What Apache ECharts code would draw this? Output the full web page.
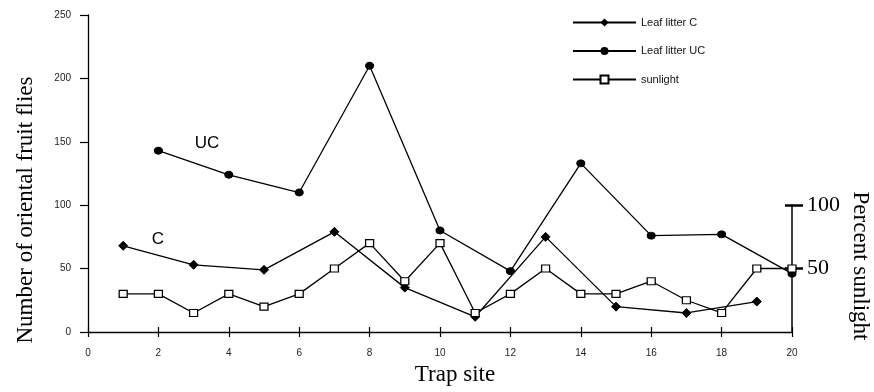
<!DOCTYPE html>
<html><head><meta charset="utf-8">
<script src="https://cdn.jsdelivr.net/npm/echarts@6/dist/echarts.min.js"></script>
<style>html,body{margin:0;padding:0;background:#fff}#c{width:874px;height:392px}</style>
</head><body><div id="c"></div>
<script>
// ---- data ----
const sitesC = [1, 3, 5, 7, 9, 11, 13, 15, 17, 19];
const leafLitterC = [68, 53, 49, 79, 35, 12, 75, 20, 15, 24];
const sitesUC = [2, 4, 6, 8, 10, 12, 14, 16, 18, 20];
const leafLitterUC = [143, 124, 110, 210, 80, 48, 133, 76, 77, 46];
const sitesSun = [1, 2, 3, 4, 5, 6, 7, 8, 9, 10, 11, 12, 13, 14, 15, 16, 17, 18, 19, 20];
const sunlight = [30, 30, 15, 30, 20, 30, 50, 70, 40, 70, 15, 30, 50, 30, 30, 40, 25, 15, 50, 50];
const sunTicks = [50, 100];
const seriesNames = ['Leaf litter C', 'Leaf litter UC', 'sunlight'];

const pairs = (xs, ys) => xs.map((x, i) => [x, ys[i]]);
const serif = "'Liberation Serif', 'Times New Roman', serif";
const sans = "'Liberation Sans', Arial, sans-serif";
const black = '#000';
const mainGrid = { left: 88, right: 82, top: 15, bottom: 60 };
const sunGrid = { left: 88, right: 82, top: 205, bottom: 60 };

const chart = echarts.init(document.getElementById('c'), null, { renderer: 'canvas' });
chart.setOption({
  animation: false,
  backgroundColor: '#fff',
  grid: [mainGrid, sunGrid, Object.assign({}, mainGrid), Object.assign({}, sunGrid)],
  legend: {
    orient: 'vertical',
    left: 567,
    top: 12,
    itemWidth: 63,
    itemHeight: 10,
    itemGap: 17.5,
    textStyle: { fontFamily: sans, fontSize: 11, color: '#111' },
    data: seriesNames
  },
  xAxis: [
    { gridIndex: 0, type: 'value', min: 0, max: 20, interval: 2, position: 'bottom',
      axisLine: { onZero: false, lineStyle: { color: black, width: 1.3 } },
      axisTick: { length: 5, lineStyle: { color: black, width: 1.2 } },
      axisLabel: { margin: 16, fontFamily: sans, fontSize: 10, color: '#222' },
      splitLine: { show: false } },
    { gridIndex: 1, type: 'value', min: 0, max: 20, show: false },
    { gridIndex: 2, type: 'value', min: 0, max: 20, interval: 2, position: 'bottom',
      axisLine: { show: false, onZero: false },
      axisTick: { inside: true, length: 5, lineStyle: { color: black, width: 1.2 } },
      axisLabel: { show: false }, splitLine: { show: false } },
    { gridIndex: 3, type: 'value', min: 0, max: 20, show: false }
  ],
  yAxis: [
    { gridIndex: 0, type: 'value', min: 0, max: 250, interval: 50, position: 'left',
      axisLine: { show: true, onZero: false, lineStyle: { color: black, width: 1.3 } },
      axisTick: { show: true, length: 8, lineStyle: { color: black, width: 1.2 } },
      axisLabel: { margin: 17, fontFamily: sans, fontSize: 10, color: '#222' },
      splitLine: { show: false } },
    { gridIndex: 1, type: 'value', min: 0, max: 100, interval: 50, position: 'right',
      axisLine: { show: true, onZero: false, lineStyle: { color: black, width: 1.5 } },
      axisTick: { show: true, length: 11, customValues: sunTicks, lineStyle: { color: black, width: 2.5 } },
      axisLabel: { margin: 15, customValues: sunTicks, fontFamily: serif, fontSize: 22, color: black,
        formatter: v => (v === 0 ? '' : String(v)) },
      splitLine: { show: false } },
    { gridIndex: 2, type: 'value', min: 0, max: 250, show: false },
    { gridIndex: 3, type: 'value', min: 0, max: 100, interval: 50, position: 'right',
      axisLine: { show: false, onZero: false },
      axisTick: { show: true, inside: true, length: 7, customValues: sunTicks, lineStyle: { color: black, width: 2.5 } },
      axisLabel: { show: false }, splitLine: { show: false } }
  ],
  series: [
    { name: seriesNames[0], type: 'line', xAxisIndex: 0, yAxisIndex: 0,
      data: pairs(sitesC, leafLitterC),
      symbol: 'diamond', symbolSize: [9, 9],
      itemStyle: { color: black, borderColor: black },
      lineStyle: { color: black, width: 1.3 } },
    { name: seriesNames[1], type: 'line', xAxisIndex: 0, yAxisIndex: 0,
      data: pairs(sitesUC, leafLitterUC),
      symbol: 'circle', symbolSize: [8, 7],
      itemStyle: { color: black, borderColor: black },
      lineStyle: { color: black, width: 1.3 } },
    { name: seriesNames[2], type: 'line', xAxisIndex: 1, yAxisIndex: 1,
      data: pairs(sitesSun, sunlight),
      symbol: 'rect', symbolSize: [8, 7],
      itemStyle: { color: '#fff', borderColor: black, borderWidth: 1.2 },
      lineStyle: { color: black, width: 1.3 } }
  ],
  graphic: [
    { type: 'text', x: 207, y: 143, style: { text: 'UC', font: '17px ' + sans, fill: black, align: 'center', verticalAlign: 'middle', textAlign: 'center', textVerticalAlign: 'middle' } },
    { type: 'text', x: 158, y: 239, style: { text: 'C', font: '17px ' + sans, fill: black, align: 'center', verticalAlign: 'middle', textAlign: 'center', textVerticalAlign: 'middle' } },
    { type: 'text', x: 26, y: 210, rotation: Math.PI / 2, style: { text: 'Number of oriental fruit flies', font: '23px ' + serif, fill: black, align: 'center', verticalAlign: 'middle', textAlign: 'center', textVerticalAlign: 'middle' } },
    { type: 'text', x: 455, y: 375, style: { text: 'Trap site', font: '23px ' + serif, fill: black, align: 'center', verticalAlign: 'middle', textAlign: 'center', textVerticalAlign: 'middle' } },
    { type: 'text', x: 860, y: 266, rotation: -Math.PI / 2, style: { text: 'Percent sunlight', font: '23px ' + serif, fill: black, align: 'center', verticalAlign: 'middle', textAlign: 'center', textVerticalAlign: 'middle' } }
  ]
});
</script>
</body></html>
